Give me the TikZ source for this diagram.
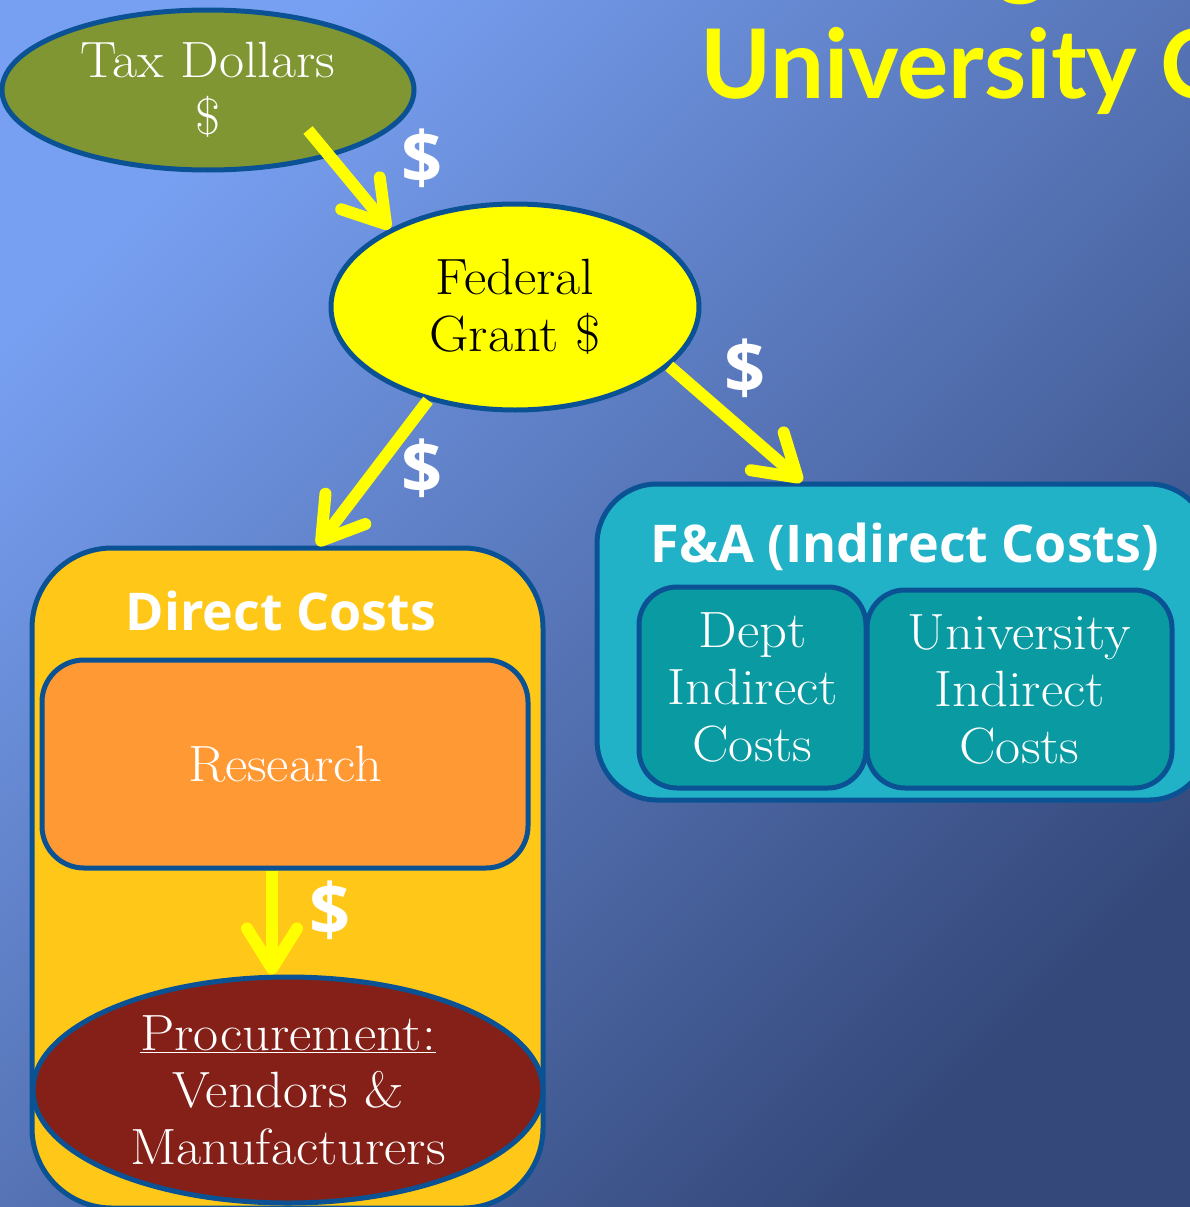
\documentclass[tikz,border=0pt]{standalone}
\usepackage{fontspec}
\setmainfont{Latin Modern Roman}[FakeStretch=1.07]
\newfontfamily\headfont{Open Sans}
\newfontfamily\bigfont{Lato}
\usetikzlibrary{arrows.meta,shapes.geometric,positioning}
\definecolor{bgtop}{RGB}{120,160,242}
\definecolor{bgbot}{RGB}{52,72,122}
\definecolor{bordblue}{RGB}{10,82,148}
\definecolor{taxgreen}{RGB}{128,150,50}
\definecolor{flowyellow}{RGB}{255,255,0}
\definecolor{dcyellow}{RGB}{255,200,25}
\definecolor{resorange}{RGB}{255,153,51}
\definecolor{procred}{RGB}{133,32,24}
\definecolor{fateal}{RGB}{34,178,200}
\definecolor{subteal}{RGB}{10,155,162}

\begin{document}
\begin{tikzpicture}[x=1pt,y=-1pt,
  edge/.style={draw=bordblue,line width=5pt},
  oval/.style={ellipse,edge,inner sep=0pt},
  tile/.style={rectangle,edge,inner sep=0pt},
  serif/.style={text=white,font=\fontsize{51}{57}\selectfont,align=center},
  head/.style={text=white,font=\headfont\bfseries\fontsize{52}{60}\selectfont},
  cash/.style={text=white,font=\headfont\bfseries\fontsize{72}{72}\selectfont},
  flow/.style={draw=flowyellow,line width=12pt,
    -{Straight Barb[length=40pt,width=50pt,round]}}]
\useasboundingbox (0,0) rectangle (1190,1207);
\clip (0,0) rectangle (1190,1207);
\shade[top color=bgtop,bottom color=bgbot,shading angle=45] (-10,-10) rectangle (1200,1217);

% heading, cut by the page edge
\node[anchor=base,inner sep=0pt,text=flowyellow,font=\bigfont\bfseries\fontsize{96}{115}\selectfont] (headg) at (1022,-12) {g};
\node[anchor=base west,inner sep=0pt,text=flowyellow,font=\bigfont\bfseries\fontsize{96}{115}\selectfont] (headline) at (700,99) {University C};

% boxes
\node[oval,fill=taxgreen,minimum width=412pt,minimum height=160pt,serif] (tax) at (208,90) {Tax Dollars\\\$};
\node[oval,fill=flowyellow,minimum width=368pt,minimum height=206pt,serif,text=black] (fed) at (515,307) {Federal\\Grant \$};

\node[tile,fill=dcyellow,rounded corners=80pt,minimum width=511pt,minimum height=660pt] (direct) at (287.5,878) {};
\node[head] (directtitle) at (281,611) {Direct Costs};
\node[tile,fill=resorange,rounded corners=42pt,minimum width=486pt,minimum height=208pt,serif] (research) at (285,764) {Research};
\node[oval,fill=procred,minimum width=510pt,minimum height=226pt,serif] (proc) at (288,1090) {\underline{Procurement:}\\Vendors \&\\Manufacturers};

\node[tile,fill=fateal,rounded corners=60pt,minimum width=612pt,minimum height=316pt] (fa) at (903,642) {};
\node[head] (fatitle) at (905,547) {F\&A (Indirect Costs)};
\node[tile,fill=subteal,rounded corners=38pt,minimum width=227pt,minimum height=201pt,serif] (dept) at (752.5,687.5) {Dept\\Indirect\\Costs};
\node[tile,fill=subteal,rounded corners=38pt,minimum width=305pt,minimum height=198pt,serif] (univ) at (1019.5,689) {University\\Indirect\\Costs};

% money flow
\draw[flow] ([shift={(100,40)}]tax.center) -- (fed.148);
\draw[flow] (fed.227) -- ([xshift=30pt]direct.north);
\draw[flow] (fed.-21) -- ([xshift=-101pt]fa.north);
\draw[flow] ([xshift=-13pt]research.south) -- ([xshift=-13pt]research.south |- proc.north);

\node[cash] (cash1) at (422,158) {\$};
\node[cash] (cash2) at (745,368) {\$};
\node[cash] (cash3) at (422,468) {\$};
\node[cash] (cash4) at (330,910) {\$};
\end{tikzpicture}
\end{document}
